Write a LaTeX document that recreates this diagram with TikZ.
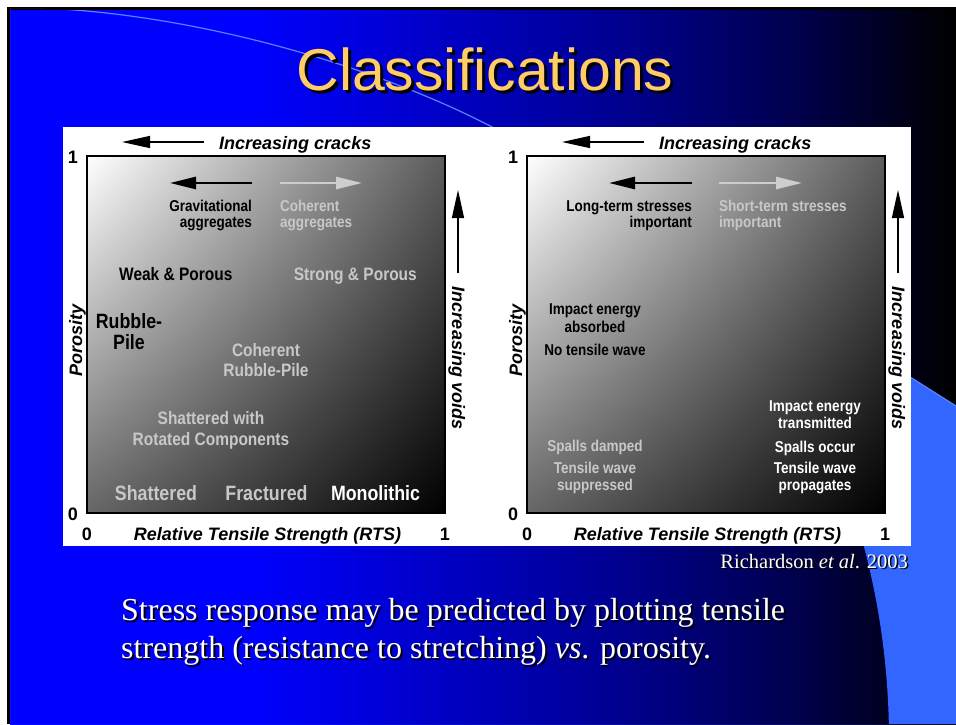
\documentclass[tikz,border=0pt]{standalone}
\usepackage{fontspec}
\usepackage{graphicx}
\setmainfont{Liberation Serif}
\newfontfamily\arialf{Liberation Sans}
\usetikzlibrary{arrows.meta,shadings}
\definecolor{titleyel}{RGB}{255,204,102}
\definecolor{lblue}{RGB}{51,102,255}
\definecolor{arcblue}{RGB}{90,130,255}
\definecolor{lgrey}{RGB}{200,200,200}
\definecolor{arrgrey}{RGB}{205,205,205}
\definecolor{boxtr}{gray}{0.36}
\definecolor{boxbl}{gray}{0.40}
\definecolor{bgB}{RGB}{0,0,150}
\definecolor{bgC}{RGB}{0,0,75}
\pgfdeclarehorizontalshading{slidebg}{100bp}{color(0bp)=(blue); color(37.7bp)=(blue); color(56.2bp)=(bgB); color(66.75bp)=(bgC); color(75bp)=(black); color(100bp)=(black)}
% text with a drop shadow, as one box: #1 offset, #2 text
\newcommand\shtext[2]{\leavevmode\rlap{\hspace{#1}\raisebox{-#1}{\color{black}#2}}#2}
% condensed (narrow) sans text
\newcommand\nrw[1]{\scalebox{0.86}[1]{#1}}
\tikzset{
  numl/.style={font=\arialf\bfseries\fontsize{18}{21}\selectfont, inner sep=0pt, text=black},
  axl/.style={font=\arialf\bfseries\itshape\fontsize{18}{21}\selectfont, inner sep=0pt, text=black},
  slab/.style={font=\arialf\bfseries\fontsize{15.7}{18}\selectfont, inner sep=0pt},
  mlab/.style={font=\arialf\bfseries\fontsize{18}{21}\selectfont, inner sep=0pt},
  blab/.style={font=\arialf\bfseries\fontsize{20.7}{24}\selectfont, inner sep=0pt},
  thinarr/.style={line width=1.3pt, -{Triangle[length=28pt,width=12pt]}},
  thickarr/.style={line width=2.7pt, -{Triangle[length=26pt,width=12pt]}},
  bodytxt/.style={font=\fontsize{32}{38}\selectfont, inner sep=0pt, anchor=base west, text=white},
}
\newcommand\plotframe[2]{%
\begin{scope}[xshift=#2pt]
\shade[upper left=white,upper right=boxtr,lower left=boxbl,lower right=black] (87,156) rectangle (445,513);
\draw[line width=1.2pt] (87,156) rectangle (445,513);
\node[numl,anchor=base] (#1ytop) at (73,163) {1};
\node[numl,anchor=base] (#1ybot) at (73,520) {0};
\node[numl,anchor=base] (#1xl) at (87,540) {0};
\node[numl,anchor=base] (#1xr) at (445,540) {1};
\node[axl,anchor=base] (#1xlab) at (267.5,540) {Relative Tensile Strength (RTS)};
\node[axl,anchor=base,rotate=90] (#1ylab) at (82,340) {Porosity};
\node[axl,anchor=base west] (#1crk) at (219,149) {Increasing cracks};
\coordinate (#1crkA) at (204,142);
\coordinate (#1crkB) at (122,142);
\draw[thinarr] (#1crkA) -- (#1crkB);
\node[axl,anchor=base,rotate=-90] (#1vd) at (452,358) {Increasing voids};
\coordinate (#1vdA) at (458,273);
\coordinate (#1vdB) at (458,190);
\draw[thinarr] (#1vdA) -- (#1vdB);
\end{scope}}
\begin{document}
\begin{tikzpicture}[x=1pt,y=-1pt]
\useasboundingbox (0,0) rectangle (956,724);
\fill[white] (0,0) rectangle (956,724);
\fill[black] (7,7) rectangle (956,724);
\shade[shading=slidebg] (10,10) rectangle (956,724);
% light blue region
\begin{scope}
\clip (40,8) .. controls (200,14) and (380,68) .. (494,128) .. controls (620,194) and (820,320) .. (956,406) -- (956,724) -- (10,724) -- (10,8) -- cycle;
\fill[lblue, even odd rule] (10,8) rectangle (956,724) (135,740) circle[radius=754pt];
\end{scope}
\begin{scope}
\clip (10,10) rectangle (956,724);
\draw[arcblue, line width=1.2pt] (40,8) .. controls (200,14) and (380,68) .. (494,128) .. controls (620,194) and (820,320) .. (956,406);
\end{scope}
% title
\node[font=\arialf\fontsize{59}{66}\selectfont, inner sep=0pt, anchor=base, text=titleyel] (title) at (485,90) {\shtext{3pt}{Classifications}};
% panel
\fill[white] (63,127) rectangle (911,546);
\plotframe{L}{0}
\plotframe{R}{440}
% left plot contents
\coordinate (LbA) at (252,183); \coordinate (LbB) at (170,183);
\draw[thickarr, black] (LbA) -- (LbB);
\coordinate (LgA) at (280,183); \coordinate (LgB) at (362,183);
\draw[thickarr, arrgrey] (LgA) -- (LgB);
\node[slab, anchor=base east, text=black] (grav1) at (252,211) {\nrw{Gravitational}};
\node[slab, anchor=base east, text=black] (grav2) at (252,227) {\nrw{aggregates}};
\node[slab, anchor=base west, text=lgrey] (coh1) at (280,211) {\nrw{Coherent}};
\node[slab, anchor=base west, text=lgrey] (coh2) at (280,227) {\nrw{aggregates}};
\node[mlab, anchor=base west, text=black] (weak) at (119,280) {\nrw{Weak \& Porous}};
\node[mlab, anchor=base east, text=lgrey] (strong) at (417,280) {\nrw{Strong \& Porous}};
\node[blab, anchor=base, text=black] (rub1) at (129,328) {\nrw{Rubble-}};
\node[blab, anchor=base, text=black] (rub2) at (129,349) {\nrw{Pile}};
\node[mlab, anchor=base, text=lgrey] (crp1) at (266,356) {\nrw{Coherent}};
\node[mlab, anchor=base, text=lgrey] (crp2) at (266,376) {\nrw{Rubble-Pile}};
\node[mlab, anchor=base, text=lgrey] (shw1) at (211,424) {\nrw{Shattered with}};
\node[mlab, anchor=base, text=lgrey] (shw2) at (211,445) {\nrw{Rotated Components}};
\node[blab, anchor=base, text=lgrey] (shat) at (156,500) {\nrw{Shattered}};
\node[blab, anchor=base, text=lgrey] (frac) at (266.5,500) {\nrw{Fractured}};
\node[blab, anchor=base, text=white] (mono) at (375.5,500) {\nrw{Monolithic}};
% right plot contents
\coordinate (RbA) at (692,183); \coordinate (RbB) at (609,183);
\draw[thickarr, black] (RbA) -- (RbB);
\coordinate (RgA) at (719,183); \coordinate (RgB) at (802,183);
\draw[thickarr, arrgrey] (RgA) -- (RgB);
\node[slab, anchor=base east, text=black] (lts1) at (692,211) {\nrw{Long-term stresses}};
\node[slab, anchor=base east, text=black] (lts2) at (692,227) {\nrw{important}};
\node[slab, anchor=base west, text=lgrey] (sts1) at (719,211) {\nrw{Short-term stresses}};
\node[slab, anchor=base west, text=lgrey] (sts2) at (719,227) {\nrw{important}};
\node[slab, anchor=base, text=black] (iea1) at (595,314) {\nrw{Impact energy}};
\node[slab, anchor=base, text=black] (iea2) at (595,332) {\nrw{absorbed}};
\node[slab, anchor=base, text=black] (ntw) at (595,355) {\nrw{No tensile wave}};
\node[slab, anchor=base, text=white] (iet1) at (815,411) {\nrw{Impact energy}};
\node[slab, anchor=base, text=white] (iet2) at (815,428) {\nrw{transmitted}};
\node[slab, anchor=base, text=white] (spo) at (815,452) {\nrw{Spalls occur}};
\node[slab, anchor=base, text=white] (twp1) at (815,473) {\nrw{Tensile wave}};
\node[slab, anchor=base, text=white] (twp2) at (815,490) {\nrw{propagates}};
\node[slab, anchor=base, text=lgrey] (spd) at (595,451) {\nrw{Spalls damped}};
\node[slab, anchor=base, text=lgrey] (tws1) at (595,473) {\nrw{Tensile wave}};
\node[slab, anchor=base, text=lgrey] (tws2) at (595,490) {\nrw{suppressed}};
% citation
\node[font=\fontsize{20.5}{24}\selectfont, inner sep=0pt, anchor=base east, text=white] (cite) at (908,568) {\shtext{1.5pt}{Richardson \textit{et al}. 2003}};
% body text
\node[bodytxt] (b1) at (121,620) {\shtext{2pt}{Stress response may be predicted by plotting tensile}};
\node[bodytxt] (b2) at (121,658) {\shtext{2pt}{strength (resistance to stretching) \textit{vs}. porosity.}};
\end{tikzpicture}
\end{document}
